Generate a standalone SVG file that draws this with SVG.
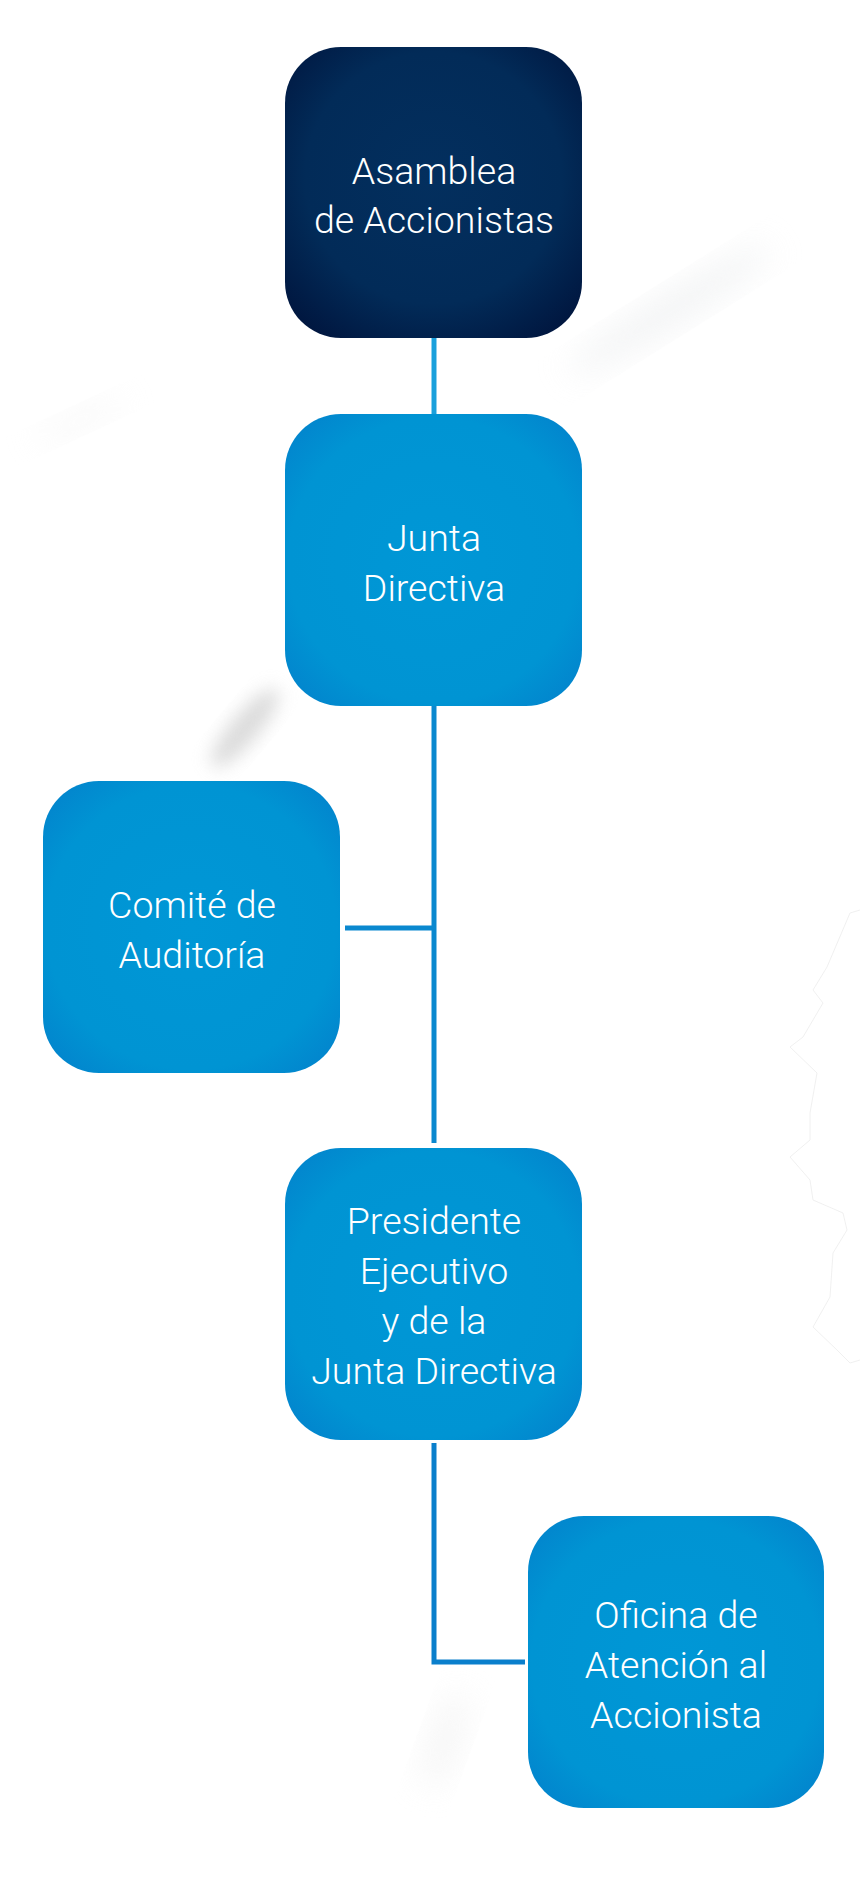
<svg xmlns="http://www.w3.org/2000/svg" width="861" height="1898" viewBox="0 0 861 1898">
  <defs>
    <radialGradient id="gBlue" cx="0.5" cy="0.5" r="0.75">
      <stop offset="0" stop-color="#0097d6"/>
      <stop offset="0.65" stop-color="#0094d3"/>
      <stop offset="1" stop-color="#047bc9"/>
    </radialGradient>
    <radialGradient id="gNavy" cx="0.5" cy="0.45" r="0.72">
      <stop offset="0" stop-color="#032f5e"/>
      <stop offset="0.6" stop-color="#022b58"/>
      <stop offset="1" stop-color="#00123a"/>
    </radialGradient>
    <filter id="blur" x="-50%" y="-50%" width="200%" height="200%">
      <feGaussianBlur stdDeviation="16"/>
    </filter>
    <filter id="blurS" x="-50%" y="-50%" width="200%" height="200%">
      <feGaussianBlur stdDeviation="9"/>
    </filter>
  </defs>
  <style>
    .box { stroke: none; }
    .lbl { font-family: Roboto, "Liberation Sans", Arial, sans-serif; font-weight: 300; font-size: 37.5px; fill: #ffffff; text-anchor: middle; }
    .con { fill: none; stroke: #0a88cf; stroke-width: 5; }
  </style>

  <rect width="861" height="1898" fill="#ffffff"/>

  <g id="background">
    <ellipse cx="670" cy="310" rx="120" ry="14" fill="#e8eaec" opacity="0.6" filter="url(#blur)" transform="rotate(-32 670 310)"/>
    <ellipse cx="245" cy="728" rx="50" ry="14" fill="#cfcfcf" opacity="0.75" filter="url(#blurS)" transform="rotate(-50 245 728)"/>
    <ellipse cx="80" cy="420" rx="50" ry="8" fill="#f0f0f0" opacity="0.5" filter="url(#blur)" transform="rotate(-25 80 420)"/>
    <ellipse cx="445" cy="1740" rx="50" ry="14" fill="#eeeeee" opacity="0.6" filter="url(#blur)" transform="rotate(-70 445 1740)"/>
    <path d="M860 910 L850 913 L827 967 L813 990 L823 1003 L803 1037 L790 1047 L817 1073 L810 1113 L810 1140 L790 1157 L810 1180 L813 1200 L843 1213 L847 1230 L833 1253 L830 1297 L813 1327 L837 1350 L850 1363 L860 1360" fill="none" stroke="#ececec" stroke-width="0.8"/>
  </g>

  <g id="connectors">
    <line x1="434" y1="338" x2="434" y2="414" class="con" style="stroke:#1aa0dc"/>
    <line x1="434" y1="706" x2="434" y2="1143" class="con"/>
    <line x1="345" y1="928" x2="434" y2="928" class="con"/>
    <path d="M434 1443 V1662 H525" class="con" style="stroke:#0a7fcc"/>
  </g>

  <g id="asamblea">
    <rect class="box" x="285" y="47" width="297" height="291" rx="56" fill="url(#gNavy)"/>
    <text class="lbl" x="434" y="184">Asamblea</text>
    <text class="lbl" x="434" y="233">de Accionistas</text>
  </g>

  <g id="junta">
    <rect class="box" x="285" y="414" width="297" height="292" rx="56" fill="url(#gBlue)"/>
    <text class="lbl" x="434" y="551">Junta</text>
    <text class="lbl" x="434" y="601">Directiva</text>
  </g>

  <g id="comite">
    <rect class="box" x="43" y="781" width="297" height="292" rx="56" fill="url(#gBlue)"/>
    <text class="lbl" x="192" y="918">Comité de</text>
    <text class="lbl" x="192" y="968">Auditoría</text>
  </g>

  <g id="presidente">
    <rect class="box" x="285" y="1148" width="297" height="292" rx="56" fill="url(#gBlue)"/>
    <text class="lbl" x="434" y="1234">Presidente</text>
    <text class="lbl" x="434" y="1284">Ejecutivo</text>
    <text class="lbl" x="434" y="1334">y de la</text>
    <text class="lbl" x="434" y="1384">Junta Directiva</text>
  </g>

  <g id="oficina">
    <rect class="box" x="528" y="1516" width="296" height="292" rx="56" fill="url(#gBlue)"/>
    <text class="lbl" x="676" y="1628">Oficina de</text>
    <text class="lbl" x="676" y="1678">Atención al</text>
    <text class="lbl" x="676" y="1728">Accionista</text>
  </g>
</svg>
